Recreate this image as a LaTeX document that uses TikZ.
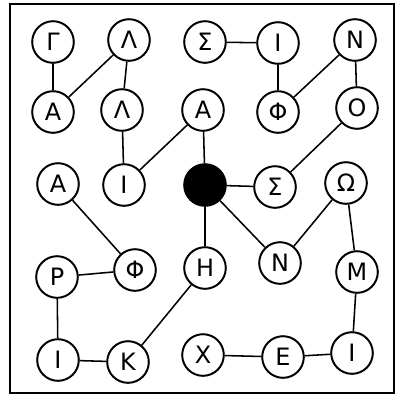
\documentclass[tikz,border=0pt]{standalone}
\usepackage{fontspec}
\setmainfont{DejaVu Sans}
\begin{document}
\begin{tikzpicture}[x=0.025cm,y=-0.025cm,
  letter/.style={circle,draw,line width=1.4pt,minimum size=1.04cm,inner sep=0pt,font=\fontsize{17}{17}\selectfont},
  hub/.style={circle,draw,fill=black,line width=1.4pt,minimum size=1.04cm,inner sep=0pt},
  link/.style={line width=1.1pt}]
\useasboundingbox (0,0) rectangle (400,397);
\draw[line width=1.5pt] (10,4) rectangle (394,393);
\node[letter] (g) at (53,42) {Γ};
\node[letter] (l1) at (129,40) {Λ};
\node[letter] (s1) at (205,42) {Σ};
\node[letter] (i1) at (278,43) {Ι};
\node[letter] (n1) at (355,40) {Ν};
\node[letter] (a1) at (53,112) {Α};
\node[letter] (l2) at (122,110) {Λ};
\node[letter] (a2) at (203,110) {Α};
\node[letter] (f1) at (278,112) {Φ};
\node[letter] (o) at (357,108) {Ο};
\node[letter] (a3) at (58,184) {Α};
\node[letter] (i2) at (124,185) {Ι};
\node[hub] (c) at (205,185) {};
\node[letter] (s2) at (275,187) {Σ};
\node[letter] (w) at (346,183) {Ω};
\node[letter] (p) at (57,277) {Ρ};
\node[letter] (f2) at (135,270) {Φ};
\node[letter] (h) at (205,268) {Η};
\node[letter] (n2) at (280,263) {Ν};
\node[letter] (m) at (357,272) {Μ};
\node[letter] (i3) at (58,360) {Ι};
\node[letter] (k) at (128,362) {Κ};
\node[letter] (x) at (203,355) {Χ};
\node[letter] (e) at (283,357) {Ε};
\node[letter] (i4) at (352,353) {Ι};
\draw[link] (g) -- (a1);
\draw[link] (a1) -- (l1);
\draw[link] (l1) -- (l2);
\draw[link] (l2) -- (i2);
\draw[link] (i2) -- (a2);
\draw[link] (a2) -- (c);
\draw[link] (s1) -- (i1);
\draw[link] (i1) -- (f1);
\draw[link] (f1) -- (n1);
\draw[link] (n1) -- (o);
\draw[link] (o) -- (s2);
\draw[link] (c) -- (s2);
\draw[link] (c) -- (h);
\draw[link] (c) -- (n2);
\draw[link] (n2) -- (w);
\draw[link] (w) -- (m);
\draw[link] (m) -- (i4);
\draw[link] (i4) -- (e);
\draw[link] (e) -- (x);
\draw[link] (a3) -- (f2);
\draw[link] (f2) -- (p);
\draw[link] (p) -- (i3);
\draw[link] (i3) -- (k);
\draw[link] (k) -- (h);
\end{tikzpicture}
\end{document}
